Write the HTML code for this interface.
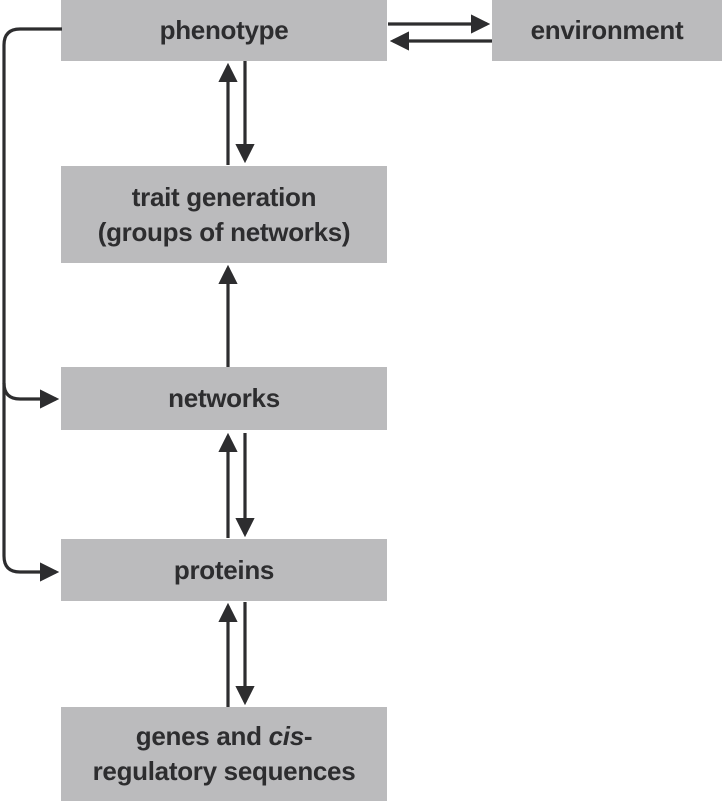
<!DOCTYPE html>
<html><head><style>
html,body{margin:0;padding:0;background:#fff;}
body{width:722px;height:801px;position:relative;overflow:hidden;font-family:"Liberation Sans",sans-serif;}
.b{position:absolute;background:#bbbbbd;color:#2d2d2f;font-size:26px;font-weight:bold;text-align:center;display:flex;align-items:center;justify-content:center;line-height:35px;letter-spacing:-0.3px;}
svg{position:absolute;left:0;top:0;}
</style></head><body>
<div class="b" style="left:61px;top:0;width:326px;height:61px;"><span>phenotype</span></div>
<div class="b" style="left:492px;top:0;width:230px;height:61px;"><span>environment</span></div>
<div class="b" style="left:61px;top:166px;width:326px;height:97px;"><span>trait generation<br>(groups of networks)</span></div>
<div class="b" style="left:61px;top:367px;width:326px;height:63px;"><span>networks</span></div>
<div class="b" style="left:61px;top:539px;width:326px;height:62px;"><span>proteins</span></div>
<div class="b" style="left:61px;top:707px;width:326px;height:94px;"><span>genes and <i>cis</i>-<br>regulatory sequences</span></div>
<svg width="722" height="801" viewBox="0 0 722 801">
<defs>
<marker id="a" markerWidth="6" markerHeight="6" refX="5" refY="3" orient="auto" markerUnits="strokeWidth">
<path d="M0,0 L6,3 L0,6 z" fill="#2d2d2f"/></marker>
</defs>
<g stroke="#2d2d2f" stroke-width="3.2" fill="none">
<line x1="228" y1="165" x2="228" y2="66" marker-end="url(#a)"/>
<line x1="245" y1="61" x2="245" y2="160" marker-end="url(#a)"/>
<line x1="228" y1="367" x2="228" y2="268" marker-end="url(#a)"/>
<line x1="228" y1="538" x2="228" y2="436" marker-end="url(#a)"/>
<line x1="245" y1="433" x2="245" y2="534" marker-end="url(#a)"/>
<line x1="228" y1="707" x2="228" y2="606" marker-end="url(#a)"/>
<line x1="245" y1="602" x2="245" y2="702" marker-end="url(#a)"/>
<line x1="388" y1="24" x2="487" y2="24" marker-end="url(#a)"/>
<line x1="492" y1="41" x2="393" y2="41" marker-end="url(#a)"/>
<path d="M62,29 L20,29 Q4,29 4,45 L4,556 Q4,572 20,572 L56,572" marker-end="url(#a)"/>
<path d="M4,383 Q4,399 20,399 L56,399" marker-end="url(#a)"/>
</g>
</svg>
</body></html>
